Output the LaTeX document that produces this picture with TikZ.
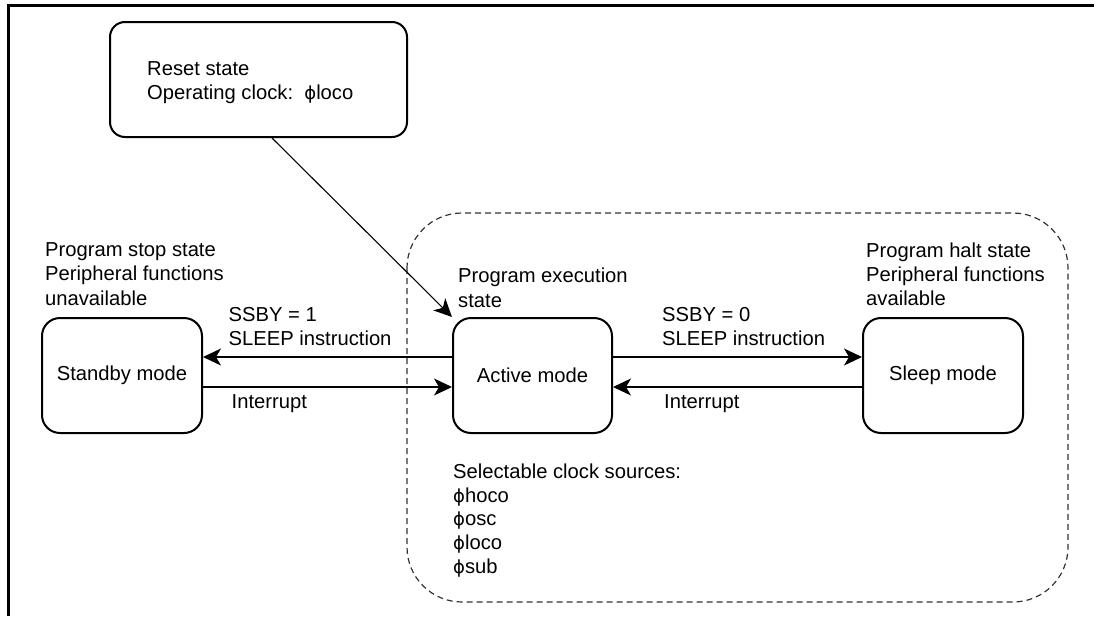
\documentclass[tikz,border=0pt]{standalone}
\usepackage{fontspec}
\setmainfont{Liberation Sans}
\newfontfamily\phifont{DejaVu Sans}
\usetikzlibrary{arrows.meta}
\newcommand{\ph}{{\phifont\fontsize{18}{24.2}\selectfont ϕ}}
\begin{document}
\begin{tikzpicture}[x=1pt,y=-1pt,
  font=\fontsize{20.2}{24.2}\selectfont,
  modebox/.style={draw, line width=2pt, rounded corners=18pt, minimum width=160pt, minimum height=115pt, inner sep=0pt},
  lbl/.style={anchor=north west, align=left, inner sep=0pt},
  arr/.style={-{Stealth[length=18pt,width=17pt,inset=5pt]}, line width=1.1pt},
  region/.style={draw=black!80, line width=1.2pt, dash pattern=on 6pt off 4pt, rounded corners=55pt}]
\useasboundingbox (0,0) rectangle (1094,616);
% frame
\draw[line width=2.3pt] (8.5,616) -- (8.5,5.5) -- (1094,5.5);
% dashed region
\draw[region] (407,213) rectangle (1068,602);
% boxes
\node[modebox, minimum width=297pt, rounded corners=15pt] (reset) at (258.5,79.5) {};
\node[modebox] (stb) at (122,375.5) {Standby mode};
\node[modebox, minimum width=159pt] (act) at (532.5,375.5) {Active mode};
\node[modebox] (slp) at (943,375.5) {Sleep mode};
% texts
\node[lbl] (resettxt) at (147,61.5) {Reset state\\Operating clock:\ \ \ph loco};
\node[lbl] (stoptxt) at (45,242.5) {Program stop state\\Peripheral functions\\unavailable};
\node[lbl] (exectxt) at (458,268) {Program execution\\state};
\node[lbl] (halttxt) at (866,242.5) {Program halt state\\Peripheral functions\\available};
\node[lbl] (ssby1) at (228.5,307.2) {SSBY = 1\\SLEEP instruction};
\node[lbl] (int1) at (231.5,394.5) {Interrupt};
\node[lbl] (ssby0) at (662,307.2) {SSBY = 0\\SLEEP instruction};
\node[lbl] (int0) at (664,394.5) {Interrupt};
\node[lbl, font=\fontsize{20.2}{23.8}\selectfont] (clk) at (453,463.5) {Selectable clock sources:\\\ph hoco\\\ph osc\\\ph loco\\\ph sub};
% connectors
\draw[arr] ([xshift=13.5pt]reset.south) -- (act.north west);
\draw[arr] ([yshift=18.5pt]act.west) -- ([yshift=18.5pt]stb.east);
\draw[arr] ([yshift=-11.5pt]stb.east) -- ([yshift=-11.5pt]act.west);
\draw[arr] ([yshift=18.5pt]act.east) -- ([yshift=18.5pt]slp.west);
\draw[arr] ([yshift=-11.5pt]slp.west) -- ([yshift=-11.5pt]act.east);
\end{tikzpicture}
\end{document}
